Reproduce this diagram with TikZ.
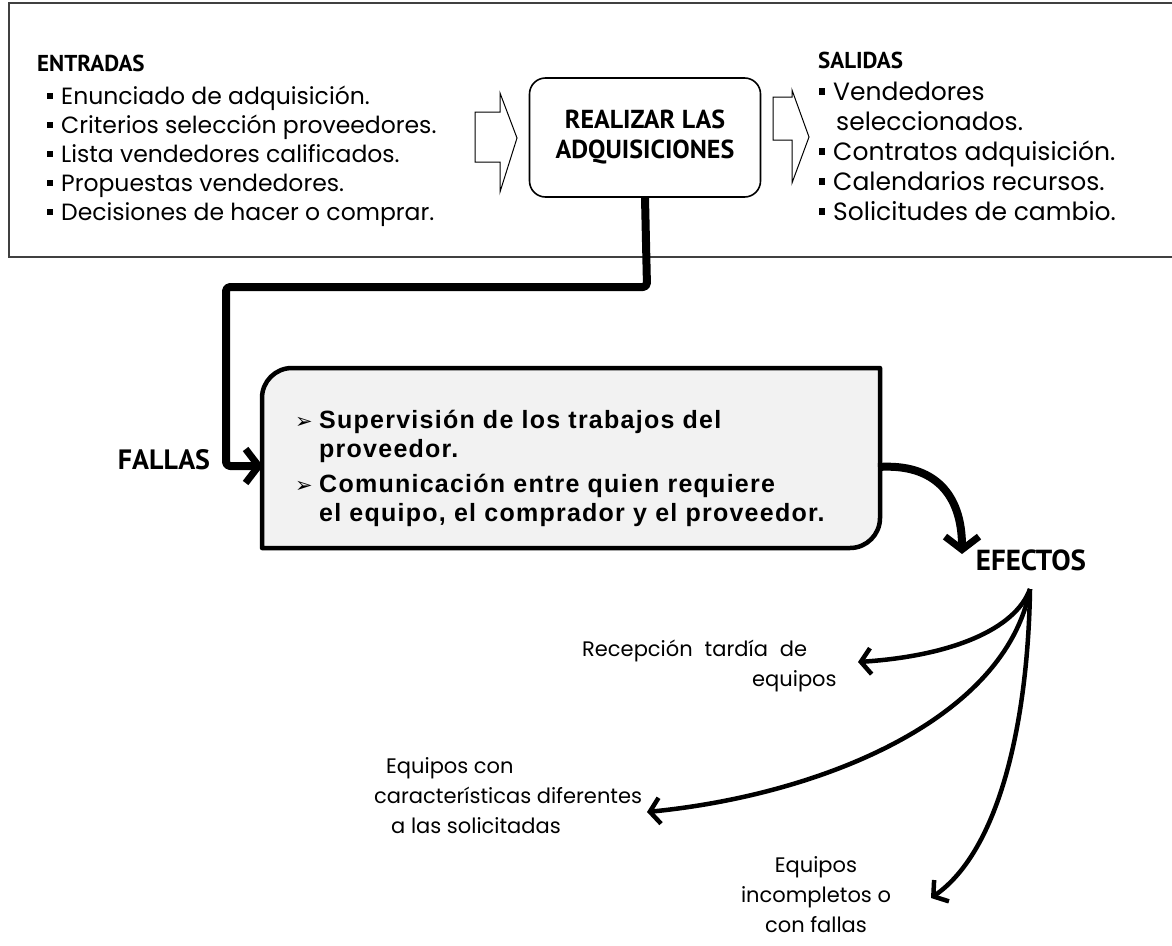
\documentclass[tikz,border=0pt]{standalone}
\usepackage{fontspec}
\setmainfont{Poppins}
\newfontfamily\hdr{PT Sans}
\newfontfamily\arialb{Liberation Sans}[LetterSpace=5]
\newfontfamily\dv{DejaVu Sans}
\usetikzlibrary{arrows.meta}
\newcommand{\sqb}{\makebox[14pt][l]{\raisebox{0.24em}{\rule{5.5pt}{6.5pt}}}}
\newcommand{\arb}{\makebox[24pt][l]{\dv\fontsize{21}{21}\selectfont ➢}}
\tikzset{
  hdrtxt/.style={font=\hdr\bfseries\fontsize{23}{25}\selectfont, inner sep=0pt},
  listtxt/.style={font=\fontsize{23.5}{29}\selectfont, align=left, inner sep=0pt},
  efftxt/.style={font=\fontsize{21}{30}\selectfont, inner sep=0pt},
  hollow/.style={draw=black, line width=1pt, fill=white},
  thickcon/.style={line width=8pt, line join=round, rounded corners=4pt,
    -{Straight Barb[length=13pt,width=34pt,line width=7pt]}},
  effarrow/.style={line width=4.5pt,
    -{Straight Barb[length=10pt,width=26pt,line width=4.5pt]}},
}
\begin{document}
\begin{tikzpicture}[x=1pt,y=-1pt]
\useasboundingbox (0,0) rectangle (1172,945);
% top frame
\draw[line width=1.6pt, draw=black!75] (1172,3) -- (9,3) -- (9,257) -- (1172,257);

% entradas
\node[hdrtxt, anchor=west] (entr) at (37,63) {ENTRADAS};
\node[listtxt, anchor=north west] (entrlist) at (47,86) {%
\sqb Enunciado de adquisición.\\
\sqb Criterios selección proveedores.\\
\sqb Lista vendedores calificados.\\
\sqb Propuestas vendedores.\\
\sqb Decisiones de hacer o comprar.};

% hollow arrows
\draw[hollow] (475,112) -- (500,112) -- (500,93) -- (517,138) -- (500,192) -- (500,162) -- (475,162) -- cycle;
\draw[hollow] (773,97) -- (792,97) -- (792,90) -- (809,137) -- (792,183) -- (792,140) -- (773,140) -- cycle;

% central process
\node[draw, line width=1.6pt, rounded corners=16pt, minimum width=231pt, minimum height=119pt,
  align=center, font=\hdr\bfseries\fontsize{26}{30}\selectfont] (proc) at (645,137.5)
  {REALIZAR LAS\\ADQUISICIONES};

% salidas
\node[hdrtxt, anchor=west] (sal) at (818,60) {SALIDAS};
\node[listtxt, font=\fontsize{25}{30}\selectfont, anchor=north west] (sallist) at (819,82) {%
\sqb Vendedores\\
\hspace*{17pt}seleccionados.\\
\sqb Contratos adquisición.\\
\sqb Calendarios recursos.\\
\sqb Solicitudes de cambio.};

% failures box
\draw[line width=4.5pt, fill=black!5, line join=round]
  (262,548) -- (262,398) arc[start angle=180, end angle=90, radius=30pt]
  -- (880,368) -- (880,518) arc[start angle=0, end angle=-90, radius=30pt] -- cycle;
\node[anchor=north west, inner sep=0pt, align=left,
  font=\arialb\bfseries\fontsize{25}{29}\selectfont] (fallatxt) at (295,410)
  {\arb Supervisión de los trabajos del\\
   \hspace*{24pt}proveedor.\\[6pt]
   \arb Comunicación entre quien requiere\\
   \hspace*{24pt}el equipo, el comprador y el proveedor.};
\coordinate (bxw) at (263,466);
\coordinate (bxe) at (878,467);

% connector from process to failures
\draw[thickcon] (proc.south) -- (647,287) -- (226,287) -- (226,466) -- (bxw);
\node[hdrtxt, font=\hdr\bfseries\fontsize{28}{30}\selectfont] (fallas) at (164,460) {FALLAS};

% effects
\node[hdrtxt, font=\hdr\bfseries\fontsize{29}{31}\selectfont] (efectos) at (1031,560) {EFECTOS};
\coordinate (effin) at (962,554);
\draw[line width=8pt, -{Straight Barb[length=13pt,width=34pt,line width=7pt]}]
  (bxe) .. controls (935,463) and (962,495) .. (effin);
\coordinate (efs) at (1030,589);

\node[efftxt, anchor=west] (e1a) at (582,651) {Recepción\hspace{12pt}tardía\hspace{12pt}de};
\node[efftxt, anchor=west] (e1b) at (752,681) {equipos};
\node[efftxt, align=left, anchor=north west] (e2) at (374,757)
  {\hspace*{12pt}Equipos con\\características diferentes\\\hspace*{17pt}a las solicitadas};
\node[efftxt, align=center] (e3) at (816,895) {Equipos\\incompletos o\\con fallas};

\coordinate (t1) at (858,662);
\coordinate (t2) at (647,812);
\coordinate (t3) at (931,898);
\draw[effarrow] (efs) .. controls (1015,630) and (950,656) .. (t1);
\draw[effarrow] (efs) .. controls (1005,720) and (820,795) .. (t2);
\draw[effarrow] (efs) .. controls (1028,720) and (1000,850) .. (t3);
\end{tikzpicture}
\end{document}
